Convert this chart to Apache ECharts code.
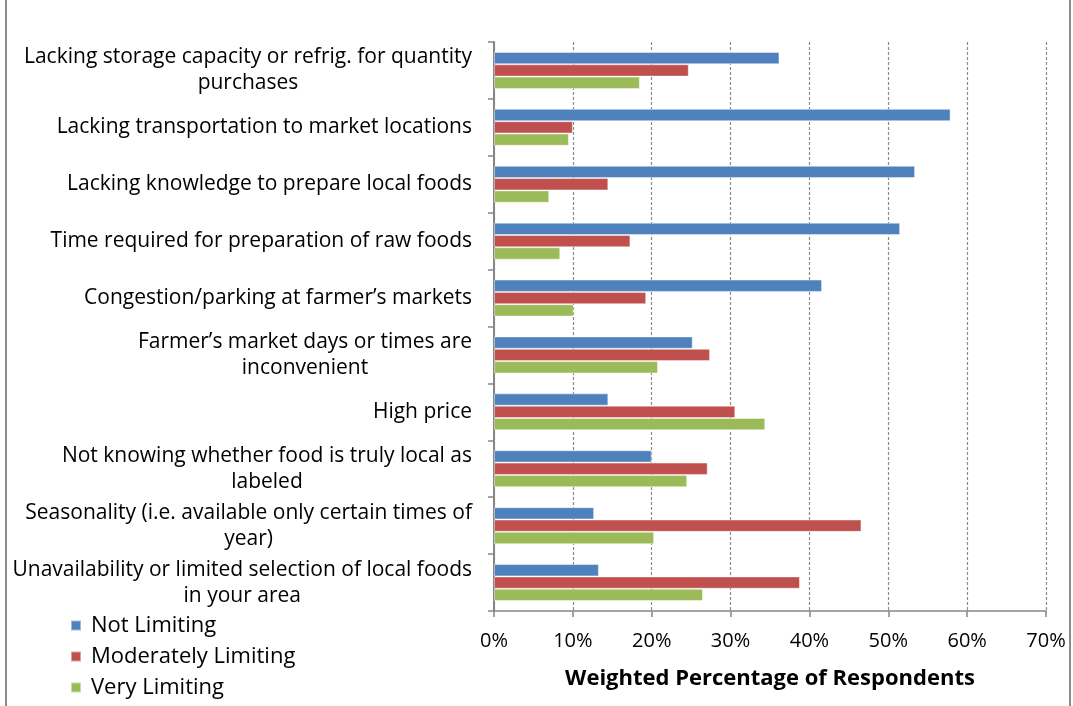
<!DOCTYPE html>
<html>
<head>
<meta charset="utf-8">
<script src="https://cdn.jsdelivr.net/npm/echarts@6/dist/echarts.min.js"></script>
<style>html,body{margin:0;padding:0;background:#fff}#c{width:1073px;height:706px}</style>
</head>
<body>
<div id="c"></div>
<script>
var categories = [
  'Lacking storage capacity or refrig. for quantity\npurchases',
  'Lacking transportation to market locations',
  'Lacking knowledge to prepare local foods',
  'Time required for preparation of raw foods',
  'Congestion/parking at farmer\u2019s markets',
  'Farmer\u2019s market days or times are\ninconvenient',
  'High price',
  'Not knowing whether food is truly local as\nlabeled',
  'Seasonality (i.e. available only certain times of\nyear)',
  'Unavailability or limited selection of local foods\nin your area'
];
var notLimiting        = [36.2, 57.9, 53.4, 51.5, 41.6, 25.2, 14.5, 20.0, 12.7, 13.3];
var moderatelyLimiting = [24.7, 10.0, 14.5, 17.3, 19.3, 27.4, 30.6, 27.1, 46.6, 38.8];
var veryLimiting       = [18.5, 9.5, 7.0, 8.4, 10.1, 20.8, 34.4, 24.5, 20.3, 26.5];
var seriesNames = ['Not Limiting', 'Moderately Limiting', 'Very Limiting'];
var xTicks = { min: 0, max: 70, interval: 10 };
var axisTitle = 'Weighted Percentage of Respondents';

var FONT = 'Open Sans';
var chart = echarts.init(document.getElementById('c'), null, { renderer: 'canvas' });
function barSeries(name, data, color) {
  return {
    name: name, type: 'bar', data: data, barGap: 0, barCategoryGap: '35%',
    itemStyle: { color: color, borderColor: 'rgba(255,255,255,0.45)', borderWidth: 1 }
  };
}
chart.setOption({
  animation: false,
  textStyle: { fontFamily: FONT },
  graphic: [{
    type: 'rect', shape: { x: 6, y: -5, width: 1064, height: 720 },
    style: { fill: 'none', stroke: '#8c8c8c', lineWidth: 2 }, silent: true, z: -1
  }],
  grid: { left: 494, right: 27, top: 42, bottom: 95 },
  legend: {
    orient: 'vertical', left: 70, top: 614, width: 300, height: 120,
    itemWidth: 10, itemHeight: 10, itemGap: 8, padding: 0,
    icon: 'rect', data: seriesNames,
    textStyle: { fontFamily: FONT, fontSize: 22, lineHeight: 23, color: '#000', padding: [0, 0, 0, 5] }
  },
  xAxis: {
    type: 'value', min: xTicks.min, max: xTicks.max, interval: xTicks.interval,
    axisLabel: { formatter: '{value}%', fontFamily: FONT, fontSize: 20, color: '#000', margin: 20 },
    axisLine: { show: true, lineStyle: { color: '#868686', width: 1.5 } },
    axisTick: { show: true, length: 6, lineStyle: { color: '#868686', width: 1.5 } },
    splitLine: { show: true, lineStyle: { color: '#8a8a8a', type: [3, 2], width: 1.2 } },
    name: axisTitle, nameLocation: 'middle', nameGap: 57,
    nameTextStyle: { fontFamily: FONT, fontSize: 22, fontWeight: 'bold', color: '#000' }
  },
  yAxis: {
    type: 'category', data: categories, inverse: true,
    axisLine: { show: true, lineStyle: { color: '#868686', width: 2 } },
    axisTick: { show: true, length: 6, lineStyle: { color: '#868686', width: 1.5 } },
    axisLabel: {
      margin: 22, align: 'right',
      formatter: function (v) {
        return v.split('\n').map(function (s) { return '{c|' + s + '}'; }).join('\n');
      },
      rich: { c: { fontFamily: FONT, fontSize: 21, color: '#000', lineHeight: 26, align: 'center' } }
    },
    splitLine: { show: false }
  },
  series: [
    barSeries(seriesNames[0], notLimiting, '#4F81BD'),
    barSeries(seriesNames[1], moderatelyLimiting, '#C0504D'),
    barSeries(seriesNames[2], veryLimiting, '#9BBB59')
  ]
});
</script>
</body>
</html>
